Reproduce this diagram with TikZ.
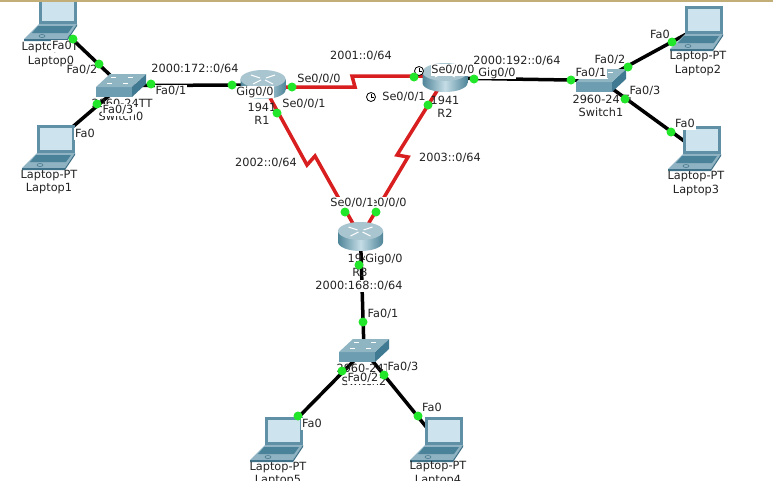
\documentclass[tikz,border=0pt]{standalone}
\usepackage{fontspec}
\setmainfont{DejaVu Sans}
\usetikzlibrary{calc}
\definecolor{frameC}{HTML}{5F90A5}
\definecolor{screenC}{HTML}{CDE3EE}
\definecolor{keyC}{HTML}{4A8299}
\definecolor{palmC}{HTML}{8FB3C2}
\definecolor{frontC}{HTML}{3F7288}
\definecolor{swTop}{HTML}{8FB4C2}
\definecolor{swFront}{HTML}{6C9DB1}
\definecolor{swSide}{HTML}{3F7A92}
\definecolor{rtTop}{HTML}{A9C5D0}
\definecolor{rtDark}{HTML}{4F8599}
\definecolor{rtLight}{HTML}{C5DDE6}
\definecolor{linkRed}{HTML}{D81E1E}
\definecolor{portG}{HTML}{22E62A}
\definecolor{tanC}{HTML}{C4AE78}
\definecolor{txtC}{HTML}{222222}
\tikzset{
  x=1pt,y=-1pt,
  anchorbox/.style={inner sep=0pt,minimum width=#1,minimum height=22pt},
  eth/.style={line width=3.5pt,black},
  ser/.style={line width=3.5pt,linkRed,line join=miter},
  port/.style={circle,fill=portG,inner sep=0pt,minimum size=9pt},
  devlab/.style={inner sep=0pt,text=txtC,font=\fontsize{11.3}{13}\selectfont},
  lab/.style={fill=white,inner sep=0.8pt,text=txtC,text height=8.5pt,text depth=1pt,font=\fontsize{11.3}{13}\selectfont},
  laptop/.pic={
    \begin{scope}[shift={(-26.5,-22.5)}]
      \fill[frameC] (15,0) rectangle (53,28);
      \fill[screenC] (18,3) rectangle (50,25);
      \fill[palmC] (15,28) -- (53,28) -- (43,43) -- (0,43) -- cycle;
      \fill[keyC] (14,30) -- (49,30) -- (44,37) -- (8,37) -- cycle;
      \fill[frontC] (0,43) -- (43,43) -- (53,28) -- (53,30) -- (43,45) -- (0,45) -- cycle;
      \draw[frontC,line width=.5pt] (18,40) ellipse [x radius=3pt,y radius=1.5pt];
    \end{scope}},
  switchicon/.pic={
    \begin{scope}[shift={(-25,-11.5)}]
      \fill[swFront] (0,13) rectangle (36,23);
      \fill[swSide] (36,13) -- (50,0) -- (50,10) -- (36,23) -- cycle;
      \fill[swTop] (0,13) -- (14,0) -- (50,0) -- (36,13) -- cycle;
      \draw[white,line width=.9pt] (15,3) -- (20,3) (32,3) -- (37,3) (11,9) -- (16,9) (27,9) -- (32,9);
    \end{scope}},
  routericon/.pic={
    \begin{scope}[shift={(0,-6)}]
    \shade[left color=rtDark,right color=rtDark,middle color=rtLight]
      (-22.5,0) -- (-22.5,11) .. controls (-22.5,16) and (-12.4,20) .. (0,20)
      .. controls (12.4,20) and (22.5,16) .. (22.5,11) -- (22.5,0) -- cycle;
    \fill[rtTop] (0,0) ellipse [x radius=22.5pt,y radius=9pt];
    \draw[white,line width=1pt] (-12,-4) -- (-3,-1) (12,-4) -- (3,-1) (-10,5) -- (-2,1) (10,5) -- (2,1);
    \end{scope}
  },
  clockicon/.pic={
    \draw[black,line width=.8pt,fill=white] (0,0) circle [radius=4.5pt];
    \draw[black,line width=.8pt] (0,-3) -- (0,0) -- (2.5,0);
  }
}
\begin{document}
\begin{tikzpicture}
\clip (0,0) rectangle (773,480);
\fill[white] (0,0) rectangle (773,480);

% device anchors
\node[anchorbox=53pt] (l0) at (50.5,18.5) {};
\node[anchorbox=53pt] (l1) at (48.5,147.5) {};
\node[anchorbox=53pt] (l2) at (696.5,28.5) {};
\node[anchorbox=53pt] (l3) at (694.5,148.5) {};
\node[anchorbox=53pt] (l5) at (276.5,439.5) {};
\node[anchorbox=53pt] (l4) at (436.5,439.5) {};
\node[anchorbox=50pt] (sw0) at (121,85.5) {};
\node[anchorbox=50pt] (sw1) at (601,80.5) {};
\node[anchorbox=50pt] (sw2) at (364,350.5) {};
\node[anchorbox=45pt] (r1) at (263,85) {};
\node[anchorbox=45pt] (r2) at (445,78) {};
\node[anchorbox=45pt] (r3) at (360.5,237) {};

% bends of the serial links
\coordinate (z1a) at (355,87);
\coordinate (z1b) at (352,76);
\coordinate (z2a) at (307,165);
\coordinate (z2b) at (315,156);
\coordinate (z3a) at (397,155);
\coordinate (z3b) at (408,157);

% connectors
\draw[eth] (sw0.center) -- (l0.center);
\draw[eth] (sw0.center) -- (l1.center);
\draw[eth] (sw0.center) -- (r1.center);
\draw[eth] (r2.center) -- (sw1.center);
\draw[eth] (sw1.center) -- (l2.center);
\draw[eth] (sw1.center) -- (l3.center);
\draw[eth] (r3.center) -- (sw2.center);
\draw[eth] (sw2.center) -- (l5.center);
\draw[eth] (sw2.center) -- (l4.center);
\draw[ser] ($(r1.center)+(0,2)$) -- (z1a) -- (z1b) -- ($(r2.center)+(0,-2)$);
\draw[ser] (r1.center) -- (z2a) -- (z2b) -- (r3.center);
\draw[ser] (r2.center) -- (z3a) -- (z3b) -- (r3.center);

% icons
\pic at (l0) {laptop};
\pic at (l1) {laptop};
\pic at (l2) {laptop};
\pic at (l3) {laptop};
\pic at (l5) {laptop};
\pic at (l4) {laptop};
\pic at (sw0) {switchicon};
\pic at (sw1) {switchicon};
\pic at (sw2) {switchicon};
\pic at (r1) {routericon};
\pic at (r2) {routericon};
\pic at (r3) {routericon};

% device labels
\node[devlab] (t00) at (50,48) {Laptop-PT};
\node[devlab] (t01) at (51,61) {Laptop0};
\node[devlab] (t02) at (49,176) {Laptop-PT};
\node[devlab] (t03) at (49,189) {Laptop1};
\node[devlab] (t04) at (698,57) {Laptop-PT};
\node[devlab] (t05) at (698,70) {Laptop2};
\node[devlab] (t06) at (696,177) {Laptop-PT};
\node[devlab] (t07) at (696,190) {Laptop3};
\node[devlab] (t08) at (278,468) {Laptop-PT};
\node[devlab] (t09) at (278,481) {Laptop5};
\node[devlab] (t10) at (438,467) {Laptop-PT};
\node[devlab] (t11) at (438,481) {Laptop4};
\node[devlab] (t12) at (122,103) {2960-24TT};
\node[devlab] (t13) at (121,116) {Switch0};
\node[devlab] (t14) at (603,99) {2960-24TT};
\node[devlab] (t15) at (601,112) {Switch1};
\node[devlab] (t16) at (367,368) {2960-24TT};
\node[devlab] (t17) at (364,381) {Switch2};
\node[devlab] (t18) at (262,107) {1941};
\node[devlab] (t19) at (262,120) {R1};
\node[devlab] (t20) at (445,100) {1941};
\node[devlab] (t21) at (445,113) {R2};
\node[devlab] (t22) at (362,258) {1941};
\node[devlab] (t23) at (360,272) {R3};

% dot hidden in part by a label
\node[port] (p01) at (298,416) {};

% port and network labels
\node[lab] (n01) at (62,46) {Fa0};
\node[lab] (n02) at (82,70) {Fa0/2};
\node[lab] (n03) at (118,110) {Fa0/3};
\node[lab] (n04) at (171,91) {Fa0/1};
\node[lab] (n05) at (85,134) {Fa0};
\node[lab] (n06) at (195,69) {2000:172::0/64};
\node[lab] (n07) at (255,92) {Gig0/0};
\node[lab] (n08) at (319,79) {Se0/0/0};
\node[lab] (n09) at (304,104) {Se0/0/1};
\node[lab] (n10) at (361,56) {2001::0/64};
\node[lab] (n11) at (453,70) {Se0/0/0};
\node[lab] (n12) at (404,97) {Se0/0/1};
\node[lab] (n13) at (266,163) {2002::0/64};
\node[lab] (n14) at (450,158) {2003::0/64};
\node[lab] (n15) at (517,61) {2000:192::0/64};
\node[lab] (n16) at (497,73) {Gig0/0};
\node[lab] (n17) at (591,73) {Fa0/1};
\node[lab] (n18) at (610,60) {Fa0/2};
\node[lab] (n19) at (645,91) {Fa0/3};
\node[lab] (n20) at (660,35) {Fa0};
\node[lab] (n21) at (685,124) {Fa0};
\node[lab] (n22) at (385,203) {Se0/0/0};
\node[lab] (n23) at (352,203) {Se0/0/1};
\node[lab] (n24) at (384,259) {Gig0/0};
\node[lab] (n25) at (359,286) {2000:168::0/64};
\node[lab] (n26) at (383,314) {Fa0/1};
\node[lab] (n27) at (403,367) {Fa0/3};
\node[lab] (n28) at (363,378) {Fa0/2};
\node[lab] (n29) at (312,424) {Fa0};
\node[lab] (n30) at (432,408) {Fa0};

% clocks
\pic at (419,71) {clockicon};
\pic at (371,97) {clockicon};

% port dots
\node[port] (p02) at (73,39) {};
\node[port] (p03) at (99,64) {};
\node[port] (p04) at (97,104) {};
\node[port] (p05) at (151,84) {};
\node[port] (p06) at (232,85) {};
\node[port] (p07) at (292,87) {};
\node[port] (p08) at (414,77) {};
\node[port] (p09) at (277,113) {};
\node[port] (p10) at (428,105) {};
\node[port] (p11) at (345,212) {};
\node[port] (p12) at (376,212) {};
\node[port] (p13) at (474,79) {};
\node[port] (p14) at (571,80) {};
\node[port] (p15) at (628,67) {};
\node[port] (p16) at (672,42) {};
\node[port] (p17) at (625,99) {};
\node[port] (p18) at (671,132) {};
\node[port] (p19) at (359,265) {};
\node[port] (p20) at (363,322) {};
\node[port] (p21) at (342,371) {};
\node[port] (p22) at (384,375) {};
\node[port] (p23) at (418,416) {};

% top edge
\fill[tanC] (0,0) rectangle (773,2);
\end{tikzpicture}
\end{document}
